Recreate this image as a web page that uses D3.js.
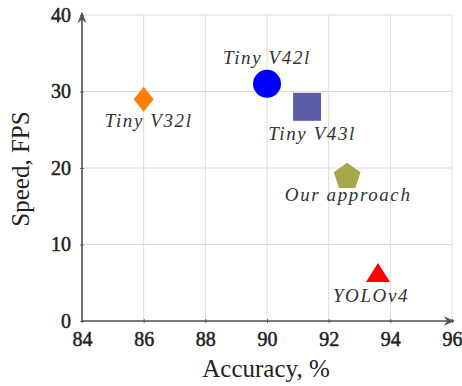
<!DOCTYPE html>
<html><head><meta charset="utf-8">
<script src="https://cdn.jsdelivr.net/npm/d3@7"></script>
<style>body{margin:0;background:#fff} text{font-family:"Liberation Serif","Times New Roman","DejaVu Serif",serif}</style>
</head><body>
<script>
const methods = ["Tiny V32l", "Tiny V42l", "Tiny V43l", "Our approach", "YOLOv4"];
const accuracy = [86, 90, 91.3, 92.6, 93.6];
const fps = [29, 31, 28, 19, 6];
const shapes = ["diamond", "circle", "square", "pentagon", "triangle"];
const colors = ["#ff7f00", "#0000ff", "#5c5ca8", "#a8a64a", "#ff0000"];
const xTicks = [84, 86, 88, 90, 92, 94, 96];
const yTicks = [0, 10, 20, 30, 40];
// label offsets (dx, dy) relative to marker
const labelOffsets = [[5, 28], [0, -20], [5, 33], [1, 25], [-7, 27]];

const W = 462, H = 386;
const svg = d3.select("body").append("svg").attr("width", W).attr("height", H);
const x = d3.scaleLinear().domain([84, 96]).range([82, 452]);
const y = d3.scaleLinear().domain([0, 40]).range([321, 15]);

// grid
svg.append("g").selectAll("line").data(xTicks).join("line")
  .attr("x1", d => x(d)).attr("x2", d => x(d)).attr("y1", y(0)).attr("y2", y(40))
  .attr("stroke", "#dcdcdc").attr("stroke-width", 1);
svg.append("g").selectAll("line").data(yTicks).join("line")
  .attr("y1", d => y(d)).attr("y2", d => y(d)).attr("x1", x(84)).attr("x2", x(96))
  .attr("stroke", "#dcdcdc").attr("stroke-width", 1);

// axes
const xAxis = d3.axisBottom(x).tickValues(xTicks).tickSize(4).tickPadding(7);
const yAxis = d3.axisLeft(y).tickValues(yTicks).tickSize(4).tickPadding(7);
const gx = svg.append("g").attr("transform", `translate(0,${y(0)})`).call(xAxis);
const gy = svg.append("g").attr("transform", `translate(${x(84)},0)`).call(yAxis);
[gx, gy].forEach(g => {
  g.attr("font-family", null);
  g.select(".domain").remove();
  g.selectAll(".tick line").attr("stroke", "#666");
  g.selectAll(".tick text").attr("font-size", 20).attr("fill", "#222")
    .attr("stroke", "#222").attr("stroke-width", 0.5);
});
gx.selectAll(".tick line").attr("transform", "translate(0,-2)");
gy.selectAll(".tick line").attr("transform", "translate(2,0)");

const defs = svg.append("defs");
defs.append("marker").attr("id", "arr").attr("viewBox", "0 0 10 10").attr("refX", 9).attr("refY", 5)
  .attr("markerWidth", 7).attr("markerHeight", 7).attr("orient", "auto")
  .append("path").attr("d", "M0,1 L10,5 L0,9 L3,5 Z").attr("fill", "#555");
svg.append("line").attr("x1", x(84)).attr("x2", x(96) + 2).attr("y1", y(0)).attr("y2", y(0))
  .attr("stroke", "#555").attr("stroke-width", 1.6).attr("marker-end", "url(#arr)");
svg.append("line").attr("x1", x(84)).attr("x2", x(84)).attr("y1", y(0)).attr("y2", y(40) - 2)
  .attr("stroke", "#555").attr("stroke-width", 1.6).attr("marker-end", "url(#arr)");

// marker shapes
function poly(pts) { return "M" + pts.map(p => p.join(",")).join("L") + "Z"; }
const shapePath = {
  diamond: () => poly([[0, -12.5], [10, 0], [0, 12.5], [-10, 0]]),
  circle: () => d3.symbol().type(d3.symbolCircle).size(Math.PI * 14 * 14)(),
  square: () => poly([[-14, -14], [14, -14], [14, 14], [-14, 14]]),
  pentagon: () => poly(d3.range(5).map(i => {
    const a = -Math.PI / 2 + i * 2 * Math.PI / 5;
    return [14 * Math.cos(a), 14 * Math.sin(a) + 1];
  })),
  triangle: () => poly([[0, -12], [12, 7], [-12, 7]])
};
svg.append("g").selectAll("path").data(methods).join("path")
  .attr("d", (d, i) => shapePath[shapes[i]]())
  .attr("fill", (d, i) => colors[i])
  .attr("transform", (d, i) => `translate(${x(accuracy[i])},${y(fps[i])})`);

// labels
svg.append("g").selectAll("text").data(methods).join("text")
  .attr("x", (d, i) => x(accuracy[i]) + labelOffsets[i][0])
  .attr("y", (d, i) => y(fps[i]) + labelOffsets[i][1])
  .attr("text-anchor", "middle")
  .attr("font-style", "italic")
  .attr("font-size", 19).attr("letter-spacing", 1.6).attr("fill", "#333")
  .text(d => d);

// axis titles
svg.append("text").attr("x", 266).attr("y", 377).attr("text-anchor", "middle")
  .attr("font-size", 25).attr("fill", "#222")
  .text("Accuracy, %");
svg.append("text").attr("transform", "translate(29,169) rotate(-90)").attr("text-anchor", "middle")
  .attr("font-size", 25).attr("fill", "#222")
  .text("Speed, FPS");
</script>
</body></html>
